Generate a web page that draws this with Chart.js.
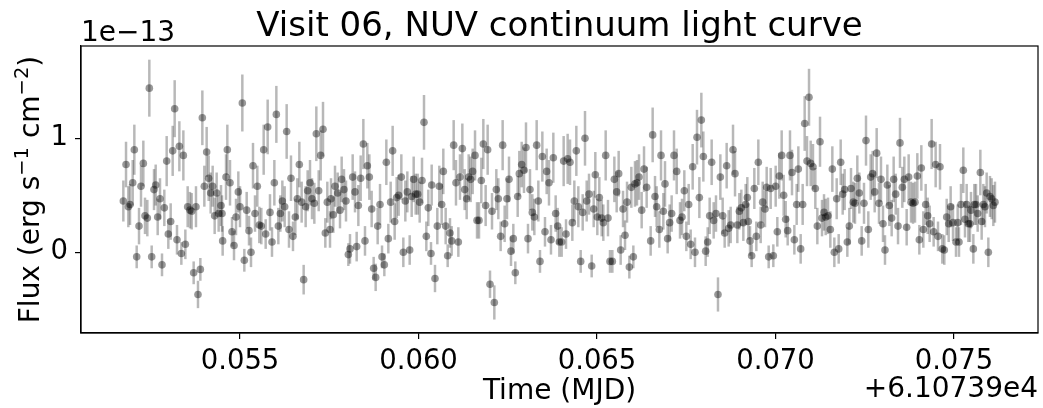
<!DOCTYPE html>
<html>
<head>
<meta charset="utf-8">
<script src="https://cdn.jsdelivr.net/npm/chart.js@4"></script>
<style>
  html, body { margin: 0; padding: 0; background: #fff; }
  canvas { display: block; }
</style>
</head>
<body>
<canvas id="lightCurve" width="1043" height="408"></canvas>
<script>
// Time in MJD minus 6.10739e4, flux in units of 1e-13 erg/s/cm^2
const times = [
  0.051732, 0.051807, 0.051872, 0.051919, 0.051994, 0.052040, 0.052106, 0.052171, 0.052227, 0.052292,
  0.052339, 0.052404, 0.052460, 0.052526, 0.052591, 0.052638, 0.052694, 0.052759, 0.052815, 0.052880,
  0.052946, 0.052992, 0.053058, 0.053114, 0.053170, 0.053235, 0.053301, 0.053357, 0.053413, 0.053469,
  0.053534, 0.053599, 0.053646, 0.053702, 0.053767, 0.053823, 0.053889, 0.053945, 0.054001, 0.054066,
  0.054122, 0.054178, 0.054234, 0.054290, 0.054346, 0.054402, 0.054468, 0.054496, 0.054514,
  0.054608, 0.054645, 0.054720, 0.054776, 0.054832, 0.054888, 0.054953, 0.055000, 0.055065, 0.055121,
  0.055187, 0.055252, 0.055308, 0.055364, 0.055420, 0.055485, 0.055541, 0.055597, 0.055663, 0.055719,
  0.055775, 0.055840, 0.055896, 0.055962, 0.056018, 0.056074, 0.056130, 0.056186, 0.056251, 0.056307,
  0.056372, 0.056428, 0.056484, 0.056550, 0.056606, 0.056662, 0.056727, 0.056783, 0.056839, 0.056895,
  0.056961, 0.057017, 0.057082, 0.057138, 0.057204, 0.057260, 0.057325, 0.057390, 0.057446,
  0.057521, 0.057549, 0.057614, 0.057661, 0.057736, 0.057801, 0.057848, 0.057913, 0.057969, 0.058035,
  0.058081, 0.058156, 0.058221, 0.058268, 0.058315, 0.058380, 0.058455, 0.058501, 0.058567, 0.058623,
  0.058688, 0.058744, 0.058800, 0.058856, 0.058922, 0.058978, 0.059043, 0.059099, 0.059155, 0.059220,
  0.059276, 0.059332, 0.059388, 0.059444, 0.059519, 0.059575, 0.059631, 0.059687, 0.059753, 0.059809,
  0.059865, 0.059921, 0.059977, 0.060033, 0.060098, 0.060154, 0.060219, 0.060275,
  0.060350, 0.060369, 0.060462, 0.060527, 0.060583, 0.060649, 0.060695, 0.060761, 0.060817, 0.060882,
  0.060929, 0.060985, 0.061050, 0.061116, 0.061162, 0.061228, 0.061293, 0.061349, 0.061405, 0.061461,
  0.061517, 0.061583, 0.061639, 0.061695, 0.061760, 0.061816, 0.061881, 0.061937, 0.062003, 0.062059,
  0.062124, 0.062180, 0.062236, 0.062301, 0.062357, 0.062413, 0.062479, 0.062535, 0.062591, 0.062656,
  0.062712, 0.062778, 0.062824, 0.062890, 0.062955, 0.063011, 0.063067, 0.063123, 0.063188, 0.063245,
  0.063310, 0.063357, 0.063403, 0.063469, 0.063543, 0.063590, 0.063655, 0.063711, 0.063777, 0.063842,
  0.063898, 0.063945, 0.064010, 0.064066, 0.064132, 0.064178, 0.064244, 0.064309, 0.064365, 0.064421,
  0.064477, 0.064543, 0.064599, 0.064664, 0.064711, 0.064776, 0.064851, 0.064907, 0.064953, 0.065009,
  0.065065, 0.065131, 0.065177, 0.065243, 0.065308, 0.065364, 0.065430, 0.065486, 0.065551, 0.065607,
  0.065663, 0.065729, 0.065785, 0.065841, 0.065906, 0.065962, 0.066018, 0.066064, 0.066120, 0.066177,
  0.066251, 0.066317, 0.066391, 0.066503, 0.066559, 0.066625, 0.066671, 0.066746, 0.066793, 0.066858,
  0.066905, 0.066979, 0.067035, 0.067091, 0.067157, 0.067232, 0.067325, 0.067381, 0.067446, 0.067502,
  0.067568, 0.067624, 0.067680, 0.067745, 0.067801, 0.067867, 0.067923, 0.067979, 0.068044, 0.068100,
  0.068156, 0.068212, 0.068268, 0.068333, 0.068389, 0.068455, 0.068520, 0.068576, 0.068632, 0.068688,
  0.068744, 0.068810, 0.068866, 0.068931, 0.068987, 0.069043, 0.069099,
  0.069164, 0.069211, 0.069239, 0.069286, 0.069332, 0.069407, 0.069463, 0.069519, 0.069585, 0.069641,
  0.069706, 0.069753, 0.069809, 0.069865, 0.069939, 0.070005, 0.070051, 0.070107, 0.070173, 0.070229,
  0.070285, 0.070341, 0.070406, 0.070462, 0.070528, 0.070593, 0.070640, 0.070705, 0.070761, 0.070817,
  0.070883, 0.070939, 0.070985, 0.071050, 0.071116, 0.071172, 0.071247, 0.071303, 0.071359, 0.071405,
  0.071471, 0.071536, 0.071592, 0.071648, 0.071714, 0.071770, 0.071826, 0.071882, 0.071937, 0.072012,
  0.072068,
  0.072115, 0.072180, 0.072227, 0.072292, 0.072348, 0.072414, 0.072479, 0.072535, 0.072600, 0.072666,
  0.072722, 0.072778, 0.072834, 0.072899, 0.072955, 0.073011, 0.073067, 0.073133, 0.073189, 0.073254,
  0.073310, 0.073366, 0.073432, 0.073487, 0.073553, 0.073609, 0.073674, 0.073730, 0.073796, 0.073852,
  0.073908, 0.073973, 0.074029, 0.074085, 0.074141, 0.074207, 0.074263, 0.074318, 0.074374, 0.074430,
  0.074486, 0.074552, 0.074608, 0.074673, 0.074729, 0.074795, 0.074851, 0.074906, 0.074972,
  0.075056, 0.075103, 0.075140, 0.075196, 0.075261, 0.075308, 0.075355, 0.075401, 0.075448, 0.075476,
  0.075542, 0.075570, 0.075616, 0.075663, 0.075738, 0.075775, 0.075822, 0.075868, 0.075915, 0.075962,
  0.076008, 0.076055, 0.076102, 0.076148
];

const flux = [
  0.45, 0.77, 0.40, 0.42, 0.61, 0.90, -0.04, 0.23, 0.58, 0.78,
  0.32, 0.30, 1.44, -0.04, 0.55, 0.59, 0.31, 0.47, -0.11, 0.39,
  0.80, 0.16, 0.27, 0.89, 1.26, 0.11, 0.93, -0.01, 0.85, 0.07,
  0.40, 0.37, 0.36, -0.18, 0.40, -0.37, -0.15, 1.18, 0.58, 0.88,
  0.65, 0.52, 0.58, 0.32, 0.52, 0.34, 0.41, 0.34, 0.10,
  0.66, 0.90, 0.61, 0.18, 0.06, 0.31, 0.53, 0.40, 1.31, -0.07,
  0.37, 0.19, 0.00, 0.76, 0.34, 0.58, 0.24, 0.23, 0.90, 0.16,
  1.10, 0.35, 0.09, 0.61, 1.21, 0.23, 0.34, 0.45, 0.40, 1.06,
  0.20, 0.65, 0.14, 0.31, 0.47, 0.77, 0.44, -0.24, 0.40, 0.54,
  0.61, 0.47, 0.43, 1.04, 0.54, 0.85, 1.08, 0.17, 0.44,
  0.20, 0.47, 0.33, 0.58, 0.52, 0.37, 0.64, 0.55, 0.45, -0.02,
  0.03, 0.66, 0.53, 0.05, 0.41, 0.65, 0.95, 0.10, 0.76, 0.66,
  0.38, -0.14, -0.22, 0.23, 0.42, -0.04, -0.11, 0.79, 0.12, 0.44,
  0.89, 0.27, 0.48, 0.50, 0.66, 0.00, 0.45, 0.53, 0.02, 0.49,
  0.64, 0.51, 0.51, 0.44, 0.63, 1.14, 0.14, 0.39,
  -0.01, 0.59, -0.23, 0.23, 0.58, 0.42, 0.71, 0.23, -0.03, 0.17,
  0.10, 0.94, 0.61, 0.09, 0.66, 0.91, 0.55, 0.47, 0.66, 0.64,
  0.71, 0.85, 0.28, 0.28, 0.63, 0.95, 0.41, 0.90, -0.28, 0.36,
  -0.44, 0.55, 0.47, 0.14, 0.94, 0.25, 0.47, 0.64, 0.01, 0.12,
  -0.18, 0.49, 0.69, 0.77, 0.72, 0.92, 0.12, 0.55, 0.35, 0.31,
  0.94, 0.45, -0.08, 0.84, 0.18, 0.71, 0.61, 0.11, 0.83, 0.34,
  0.23, 0.09, 0.09, 0.80, 0.16, 0.82, 0.79, 0.26, 0.45, 0.89,
  0.40, -0.08, 0.35, 1.00, 0.45, 0.51, -0.12, 0.38, 0.68, 0.31,
  0.48, 0.30, 0.26, 0.85, 0.30, -0.08, -0.08, 0.64, 0.53, 0.69,
  0.02, 0.38, 0.15, 0.44, -0.13, 0.57, -0.04, 0.60, 0.61, 0.66,
  0.37, 0.73, 0.57, 0.10, 1.03, 0.49, 0.40, 0.20, 0.85, 0.36,
  0.60, 0.12, 0.26, 0.34, 0.85, 0.71, 0.28, 0.31, 0.54, 0.14,
  0.42, 0.07, 0.75, 0.00, 1.01, 0.48, 1.16, 0.84, 0.01, 0.09,
  0.32, 0.79, 0.28, 0.34, -0.37, 0.66, 0.32, 0.17, 0.76, 0.21,
  0.24, 0.90, 0.69, 0.24, 0.36, 0.39, 0.26,
  0.42, 0.48, 0.27, 0.10, -0.03, 0.56, 0.14, 0.79, 0.24, 0.44,
  0.38, 0.57, -0.04, 0.56, -0.03, 0.58, 0.18, 0.67, 0.85, 0.50,
  0.29, 0.19, 0.85, 0.70, 0.11, 0.42, 0.73, 0.03, 0.42, 1.13,
  0.80, 1.36, 0.78, 0.75, 0.56, 0.23, 0.97, 0.30, 0.35, 0.31,
  0.32, 0.20, 0.73, 0.00, 0.47, 0.03, 0.79, 0.51, 0.55, 0.09,
  0.23,
  0.56, 0.44, 0.43, 0.65, 0.52, 0.10, 0.43, 0.98, 0.20, 0.66,
  0.69, 0.53, 0.87, 0.43, 0.64, 0.25, 0.02, 0.59, 0.41, 0.30,
  0.64, 0.51, 0.23, 0.96, 0.57, 0.64, 0.22, 0.66, 0.44, 0.43,
  0.44, 0.67, 0.11, 0.74, 0.20, 0.42, 0.32, 0.25, 0.95, 0.18,
  0.77, 0.14, 0.75, 0.03, 0.02, 0.31, 0.25, 0.40, 0.26,
  0.09, 0.26, 0.09, 0.42, 0.72, 0.29, 0.42, 0.25, 0.25, 0.37,
  0.03, 0.42, 0.42, 0.34, 0.70, 0.27, 0.42, 0.40, 0.52, 0.00,
  0.49, 0.47, 0.41, 0.44
];

const fluxErr = [
  0.18, 0.20, 0.18, 0.18, 0.20, 0.22, 0.10, 0.16, 0.18, 0.20,
  0.16, 0.16, 0.25, 0.10, 0.18, 0.18, 0.16, 0.18, 0.10, 0.16,
  0.22, 0.13, 0.16, 0.22, 0.25, 0.13, 0.22, 0.10, 0.22, 0.13,
  0.18, 0.16, 0.16, 0.10, 0.18, 0.12, 0.10, 0.24, 0.18, 0.22,
  0.20, 0.18, 0.18, 0.16, 0.18, 0.16, 0.18, 0.16, 0.13,
  0.20, 0.22, 0.20, 0.13, 0.13, 0.16, 0.18, 0.18, 0.25, 0.10,
  0.16, 0.13, 0.13, 0.20, 0.16, 0.18, 0.16, 0.16, 0.22, 0.13,
  0.24, 0.16, 0.13, 0.20, 0.25, 0.16, 0.16, 0.18, 0.18, 0.24,
  0.16, 0.20, 0.13, 0.16, 0.18, 0.20, 0.18, 0.13, 0.18, 0.18,
  0.20, 0.18, 0.18, 0.24, 0.18, 0.22, 0.24, 0.13, 0.18,
  0.16, 0.18, 0.16, 0.18, 0.18, 0.16, 0.20, 0.18, 0.18, 0.10,
  0.13, 0.20, 0.18, 0.13, 0.18, 0.20, 0.22, 0.13, 0.20, 0.20,
  0.16, 0.10, 0.12, 0.16, 0.18, 0.10, 0.10, 0.20, 0.13, 0.18,
  0.22, 0.16, 0.18, 0.18, 0.20, 0.13, 0.18, 0.18, 0.13, 0.18,
  0.20, 0.18, 0.18, 0.18, 0.20, 0.24, 0.13, 0.16,
  0.10, 0.18, 0.12, 0.16, 0.18, 0.18, 0.20, 0.16, 0.10, 0.13,
  0.13, 0.22, 0.20, 0.13, 0.20, 0.22, 0.18, 0.18, 0.20, 0.20,
  0.20, 0.22, 0.16, 0.16, 0.20, 0.22, 0.18, 0.22, 0.12, 0.16,
  0.15, 0.18, 0.18, 0.13, 0.22, 0.16, 0.18, 0.20, 0.13, 0.13,
  0.10, 0.18, 0.20, 0.20, 0.20, 0.22, 0.13, 0.18, 0.16, 0.16,
  0.22, 0.18, 0.10, 0.22, 0.13, 0.20, 0.20, 0.13, 0.22, 0.16,
  0.16, 0.13, 0.13, 0.22, 0.13, 0.22, 0.20, 0.16, 0.18, 0.22,
  0.18, 0.10, 0.16, 0.24, 0.18, 0.18, 0.10, 0.16, 0.20, 0.16,
  0.18, 0.16, 0.16, 0.22, 0.16, 0.10, 0.10, 0.20, 0.18, 0.20,
  0.13, 0.16, 0.13, 0.18, 0.10, 0.18, 0.10, 0.20, 0.20, 0.20,
  0.16, 0.20, 0.18, 0.13, 0.24, 0.18, 0.18, 0.16, 0.22, 0.16,
  0.20, 0.13, 0.16, 0.16, 0.22, 0.20, 0.16, 0.16, 0.18, 0.13,
  0.18, 0.13, 0.20, 0.13, 0.24, 0.18, 0.24, 0.22, 0.13, 0.13,
  0.16, 0.20, 0.16, 0.16, 0.15, 0.20, 0.16, 0.13, 0.20, 0.16,
  0.16, 0.22, 0.20, 0.16, 0.16, 0.16, 0.16,
  0.18, 0.18, 0.16, 0.13, 0.10, 0.18, 0.13, 0.20, 0.16, 0.18,
  0.16, 0.18, 0.10, 0.18, 0.10, 0.18, 0.13, 0.20, 0.22, 0.18,
  0.16, 0.13, 0.22, 0.20, 0.13, 0.18, 0.20, 0.13, 0.18, 0.24,
  0.22, 0.25, 0.20, 0.20, 0.18, 0.16, 0.22, 0.16, 0.16, 0.16,
  0.16, 0.16, 0.20, 0.13, 0.18, 0.13, 0.20, 0.18, 0.18, 0.13,
  0.16,
  0.18, 0.18, 0.18, 0.20, 0.18, 0.13, 0.18, 0.22, 0.16, 0.20,
  0.20, 0.18, 0.22, 0.18, 0.20, 0.16, 0.13, 0.18, 0.18, 0.16,
  0.20, 0.18, 0.16, 0.22, 0.18, 0.20, 0.16, 0.20, 0.18, 0.18,
  0.18, 0.20, 0.13, 0.20, 0.16, 0.18, 0.16, 0.16, 0.22, 0.13,
  0.20, 0.13, 0.20, 0.13, 0.13, 0.16, 0.16, 0.18, 0.16,
  0.13, 0.16, 0.13, 0.18, 0.20, 0.16, 0.18, 0.16, 0.16, 0.16,
  0.13, 0.18, 0.18, 0.16, 0.20, 0.16, 0.18, 0.18, 0.18, 0.13,
  0.18, 0.18, 0.18, 0.18
];

const xTicks = [0.055, 0.060, 0.065, 0.070, 0.075];
const yTicks = [0, 1];

const FONT = 'DejaVu Sans';

// vertical error bars, drawn before the markers
const errorBars = {
  id: 'errorBars',
  beforeDatasetsDraw(chart) {
    const { ctx, scales: { x, y } } = chart;
    ctx.save();
    ctx.strokeStyle = 'rgba(0,0,0,0.28)';
    ctx.lineWidth = 2.5;
    for (let i = 0; i < times.length; i++) {
      const px = x.getPixelForValue(times[i]);
      ctx.beginPath();
      ctx.moveTo(px, y.getPixelForValue(flux[i] - fluxErr[i]));
      ctx.lineTo(px, y.getPixelForValue(flux[i] + fluxErr[i]));
      ctx.stroke();
    }
    ctx.restore();
  }
};

// frame + matplotlib style texts
const decorations = {
  id: 'decorations',
  afterDraw(chart) {
    const { ctx, chartArea: a } = chart;
    const cx = (a.left + a.right) / 2;
    const cy = (a.top + a.bottom) / 2;
    ctx.save();
    ctx.strokeStyle = '#000';
    ctx.lineWidth = 1.2;
    ctx.strokeRect(a.left, a.top, a.right - a.left, a.bottom - a.top);

    ctx.fillStyle = '#000';
    ctx.textBaseline = 'alphabetic';

    ctx.font = '34px ' + FONT;
    ctx.textAlign = 'center';
    ctx.fillText('Visit 06, NUV continuum light curve', cx, 36);

    ctx.font = '28px ' + FONT;
    ctx.textAlign = 'left';
    ctx.fillText('1e\u221213', a.left, 41);

    ctx.textAlign = 'center';
    ctx.fillText('Time (MJD)', cx, 399);
    ctx.textAlign = 'right';
    ctx.fillText('+6.10739e4', a.right, 397);

    // y label with superscripts
    const parts = [
      { t: 'Flux (erg s', sup: false },
      { t: '\u22121', sup: true },
      { t: ' cm', sup: false },
      { t: '\u22122', sup: true },
      { t: ')', sup: false }
    ];
    const big = '28px ' + FONT, small = '19.5px ' + FONT;
    let total = 0;
    parts.forEach(p => { ctx.font = p.sup ? small : big; p.w = ctx.measureText(p.t).width; total += p.w; });
    ctx.translate(39, cy);
    ctx.rotate(-Math.PI / 2);
    ctx.textAlign = 'left';
    let pos = -total / 2;
    parts.forEach(p => {
      ctx.font = p.sup ? small : big;
      ctx.fillText(p.t, pos, p.sup ? -11.5 : 0);
      pos += p.w;
    });
    ctx.restore();
  }
};

const points = times.map((t, i) => ({ x: t, y: flux[i] }));

new Chart(document.getElementById('lightCurve'), {
  type: 'scatter',
  data: {
    datasets: [{
      data: points,
      pointRadius: 3.8,
      pointBorderWidth: 0,
      pointBackgroundColor: 'rgba(0,0,0,0.4)',
      pointHoverRadius: 3.8
    }]
  },
  options: {
    responsive: false,
    devicePixelRatio: 1,
    animation: false,
    events: [],
    layout: { padding: { top: 46, right: 5, left: 0, bottom: 0 } },
    plugins: { legend: { display: false }, tooltip: { enabled: false }, title: { display: false } },
    scales: {
      x: {
        type: 'linear',
        min: 0.050546,
        max: 0.077353,
        afterFit(scale) { scale.height = 75; },
        afterBuildTicks(scale) { scale.ticks = xTicks.map(v => ({ value: v })); },
        ticks: {
          autoSkip: false, maxRotation: 0, padding: 6, color: '#000',
          font: { family: FONT, size: 27.5 },
          callback: v => v.toFixed(3)
        },
        grid: { drawOnChartArea: false, drawTicks: true, tickLength: 6, color: '#000', lineWidth: 1.2 },
        border: { display: true, color: '#000', width: 1.2 }
      },
      y: {
        type: 'linear',
        min: -0.708,
        max: 1.81,
        afterFit(scale) { scale.width = 81; },
        afterBuildTicks(scale) { scale.ticks = yTicks.map(v => ({ value: v })); },
        ticks: {
          autoSkip: false, padding: 7, color: '#000',
          font: { family: FONT, size: 27.5 },
          callback: v => String(v)
        },
        grid: { drawOnChartArea: false, drawTicks: true, tickLength: 6, color: '#000', lineWidth: 1.2 },
        border: { display: true, color: '#000', width: 1.2 }
      }
    }
  },
  plugins: [errorBars, decorations]
});
</script>
</body>
</html>
